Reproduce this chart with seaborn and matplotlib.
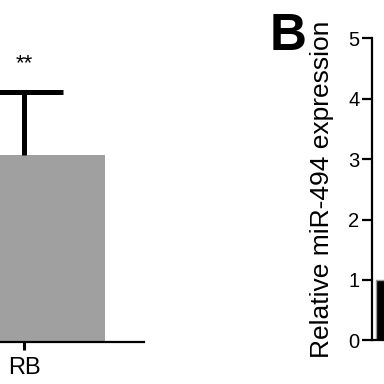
import matplotlib
matplotlib.use("Agg")
import matplotlib.pyplot as plt
import seaborn as sns
import pandas as pd

# Data
left_categories = ["RB"]
left_means = [3.09]
left_sd = [1.04]
left_sig = ["**"]

right_categories = ["Control"]
right_values = [1.0]
right_ticks = [0, 1, 2, 3, 4, 5]
right_ylabel = "Relative miR-494 expression"
panel_label = "B"

sns.set_theme(style="white")
plt.rcParams["font.family"] = ["Liberation Sans", "DejaVu Sans"]
plt.rcParams["text.color"] = "black"
plt.rcParams["axes.labelcolor"] = "black"
plt.rcParams["xtick.color"] = "black"
plt.rcParams["ytick.color"] = "black"
plt.rcParams["xtick.labelcolor"] = "black"
plt.rcParams["ytick.labelcolor"] = "black"

fig = plt.figure(figsize=(3.84, 3.84), dpi=100)

def fx(px):
    return px / 384.0

def fy(px):
    return (384.0 - px) / 384.0

# ---- Left panel (partially visible) ----
axL = fig.add_axes([fx(-176), fy(341.5), fx(320), 302 / 384.0])
dfL = pd.DataFrame({"cat": left_categories, "val": left_means})
sns.barplot(data=dfL, x="cat", y="val", ax=axL, color="#a0a0a0",
            saturation=1, width=0.8, errorbar=None, edgecolor="none")
xs = list(range(len(left_means)))
tops = [m + s for m, s in zip(left_means, left_sd)]
axL.vlines(xs, left_means, tops, color="black", linewidth=3.6)
axL.hlines(tops, [x - 0.193 for x in xs], [x + 0.193 for x in xs],
           color="black", linewidth=3.6)
for x, t, lab in zip(xs, tops, left_sig):
    axL.text(x, t + 0.47, lab, ha="center", va="center", fontsize=16,
             color="black")
axL.set_ylim(0, 5)
axL.set_xlim(-0.988, 0.593)
axL.set_yticks([])
axL.set_xlabel("")
axL.set_ylabel("")
for s in ["left", "top", "right"]:
    axL.spines[s].set_visible(False)
axL.spines["bottom"].set_linewidth(1.6)
axL.spines["bottom"].set_color("black")
axL.tick_params(axis="x", bottom=True, length=6, width=2.2, color="black",
                labelcolor="black", labelsize=17, pad=5)

# ---- Right panel B ----
axR = fig.add_axes([fx(372), fy(340.3), fx(192), 302 / 384.0])
dfR = pd.DataFrame({"cat": right_categories, "val": right_values})
sns.barplot(data=dfR, x="cat", y="val", ax=axR, color="black",
            saturation=1, width=0.8, errorbar=None,
            edgecolor="#999999", linewidth=1.0)
axR.set_ylim(0, 5)
axR.set_xlim(-0.4173, 0.5308)
axR.set_yticks(right_ticks)
axR.set_xticks([])
axR.set_xlabel("")
for s in ["top", "right"]:
    axR.spines[s].set_visible(False)
for s in ["left", "bottom"]:
    axR.spines[s].set_linewidth(1.6)
    axR.spines[s].set_color("black")
axR.tick_params(axis="y", left=True, length=7, width=1.6, color="black",
                labelcolor="black", labelsize=14.5, pad=2)
axR.set_ylabel(right_ylabel, fontsize=19, color="black")
axR.yaxis.label.set_va("center")
axR.yaxis.set_label_coords((322 - 372) / 192.0, 0.5)

fig.text(fx(270), fy(50), panel_label, fontsize=37, fontweight="bold",
         ha="left", va="baseline", color="black")

fig.savefig("out.png", dpi=100)
